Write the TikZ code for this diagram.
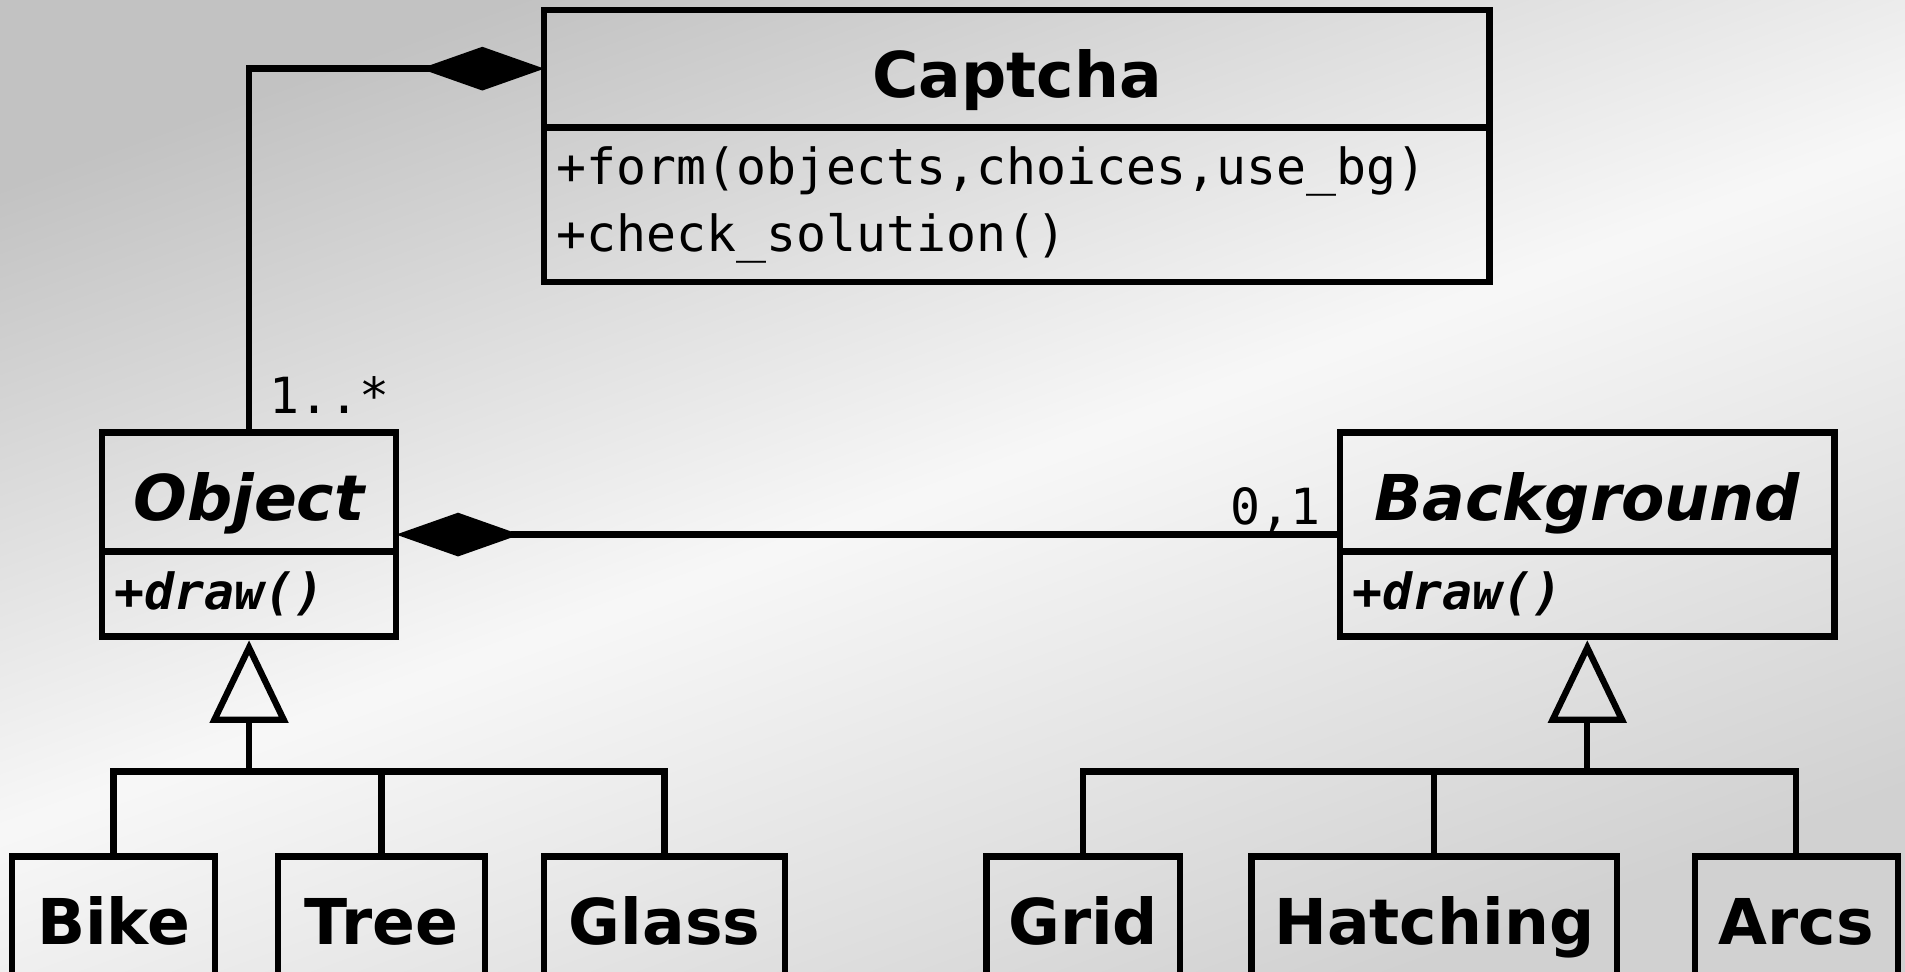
\documentclass[tikz,border=0pt]{standalone}
\usepackage{fontspec}
\usepackage{xcolor}
\usepackage{tikz}
\usetikzlibrary{arrows.meta}
\usetikzlibrary{positioning}

\newfontfamily\umlsans{DejaVu Sans}[BoldFont={DejaVu Sans Bold}, ItalicFont={DejaVu Sans Oblique}, BoldItalicFont={DejaVu Sans Bold Oblique}]
\newfontfamily\umlmono{DejaVu Sans Mono}[BoldFont={DejaVu Sans Mono Bold}, ItalicFont={DejaVu Sans Mono Oblique}, BoldItalicFont={DejaVu Sans Mono Bold Oblique}]

\definecolor{paperdark}{gray}{0.76}
\definecolor{paperlight}{gray}{0.97}
\definecolor{papermid}{gray}{0.82}

\begin{document}
\begin{tikzpicture}[x=1pt, y=1pt,
    line width=2.6pt,
    every node/.style={outer sep=0pt},
    classname/.style={draw, rectangle, inner sep=0pt, text height=28.5pt, text depth=5pt,
      font=\umlsans\bfseries\fontsize{26}{30}\selectfont},
    abstractname/.style={classname, font=\umlsans\bfseries\itshape\fontsize{26}{30}\selectfont},
    classbody/.style={draw, rectangle, inner xsep=5pt, inner ysep=0pt, align=left,
      font=\umlmono\fontsize{20.5}{27.5}\selectfont},
    abstractbody/.style={classbody, font=\umlmono\bfseries\itshape\fontsize{20.5}{27.5}\selectfont},
    leafclass/.style={classname, text height=19pt, text depth=2.5pt, minimum height=56pt},
    mult/.style={inner sep=0pt, font=\umlmono\fontsize{20.5}{24}\selectfont},
    composition/.style={{Diamond[length=51pt, width=18pt]}-},
    generalisation/.style={-{Triangle[open, length=34pt, width=32pt]}, shorten >=1.5pt},
  ]

  % Paper
  \useasboundingbox (0,0) rectangle (784,-400);
  \shade[top color=paperdark, bottom color=papermid, middle color=paperlight, shading angle=20]
    (0,0) rectangle (784,-400);

  % Top class
  \node[classname, minimum width=389pt, minimum height=48.5pt] (captcha) at (418.5,-28.25) {Captcha};
  \node[classbody, below=0pt of captcha, text width=379pt, minimum height=63.5pt] (captchaops)
    {+form(objects,choices,use\_bg)\\+check\_solution()};

  % Abstract classes
  \node[abstractname, minimum width=121pt, minimum height=49pt] (object) at (102.5,-202.5) {Object};
  \node[abstractbody, below=0pt of object, text width=111pt, minimum height=35pt] (objectops) {+draw()};

  \node[abstractname, minimum width=203.5pt, minimum height=49pt] (background) at (653.25,-202.5) {Background};
  \node[abstractbody, below=0pt of background, text width=193.5pt, minimum height=35pt] (backgroundops) {+draw()};

  % Concrete classes
  \node[leafclass, minimum width=83.5pt]  (bike)     at (46.75,-380.5)  {Bike};
  \node[leafclass, minimum width=85pt]    (tree)     at (157,-380.5)    {Tree};
  \node[leafclass, minimum width=99pt]    (glass)    at (273.5,-380.5)  {Glass};
  \node[leafclass, minimum width=79.5pt]  (grid)     at (445.75,-380.5) {Grid};
  \node[leafclass, minimum width=150.5pt] (hatching) at (590.25,-380.5) {Hatching};
  \node[leafclass, minimum width=83.5pt]  (arcs)     at (739.25,-380.5) {Arcs};

  % Compositions
  \draw[composition] (captcha) -| (object);
  \node[mult, anchor=base west] (objectmult) at ([xshift=8.5pt, yshift=8pt]object.north) {1..*};

  \draw[composition] ([yshift=-17.5pt]object.east) -- ([yshift=-17.5pt]background.west);
  \node[mult, anchor=base east] (backgroundmult) at ([xshift=-8pt, yshift=-13.5pt]background.west) {0,1};

  % Generalisations
  \coordinate (objectfork) at (102.5,-317.5);
  \coordinate (backgroundfork) at (653.25,-317.5);

  \draw[generalisation] (objectfork) -- (objectops);
  \draw (bike) |- (objectfork) -| (glass);
  \draw (tree) -- (tree |- objectfork);

  \draw[generalisation] (backgroundfork) -- (backgroundops);
  \draw (grid) |- (backgroundfork) -| (arcs);
  \draw (hatching) -- (hatching |- backgroundfork);

\end{tikzpicture}
\end{document}
